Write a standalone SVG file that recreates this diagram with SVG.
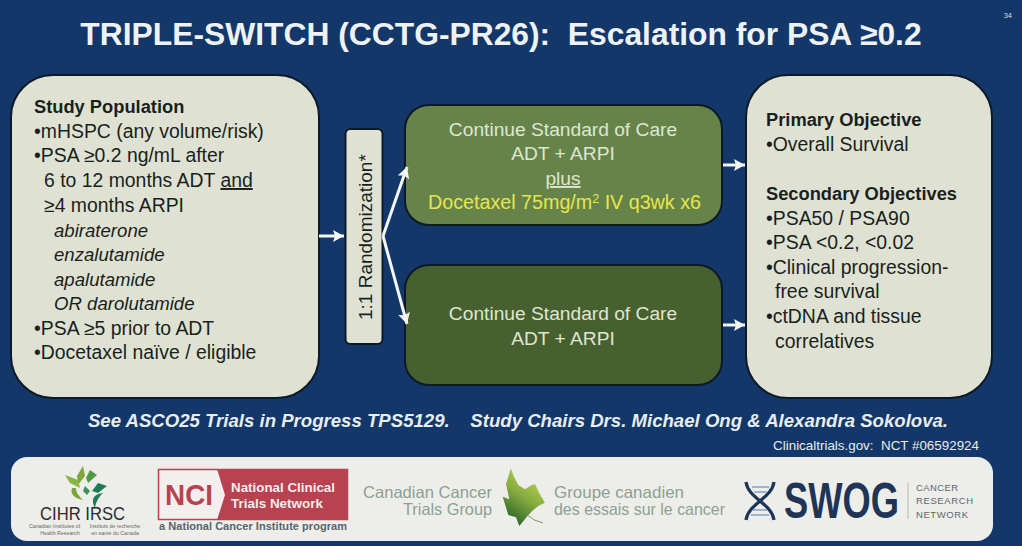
<svg xmlns="http://www.w3.org/2000/svg" width="1022" height="546" viewBox="0 0 1022 546">
<style>
text{font-family:"Liberation Sans",Arial,sans-serif}
.d{font-size:19.400px;fill:#1a1f1c}
.b{font-size:18.300px;font-weight:700}
.i{font-style:italic;font-size:18.600px}
.w{font-size:19.200px;fill:#dfe6d2;text-anchor:middle}
.box{fill:#dfe2d3;stroke:#0d1a26;stroke-width:2}
.c{stroke:#f4f6f6;stroke-width:3;fill:none;marker-end:url(#a)}
.gt{fill:#8d9f92;font-size:16.500px}
.sw{font-size:9.500px;fill:#5d6670}
.mini{font-size:5.300px;fill:#666;text-anchor:middle}
</style>
<defs>
<marker id="a" markerUnits="userSpaceOnUse" markerWidth="12" markerHeight="14" refX="11" refY="7" orient="auto"><path d="M0 1L11 7L0 13L2 7Z" fill="#f4f6f6"/></marker>
<linearGradient id="leaf" x1="0.700" y1="0.100" x2="0.300" y2="0.900"><stop offset="0" stop-color="#b9d05a"/><stop offset="0.500" stop-color="#86ab3f"/><stop offset="1" stop-color="#356f2a"/></linearGradient>
</defs>
<rect width="1022" height="546" fill="#123768"/>
<text x="1012" y="18" font-size="7.500" fill="#d8dde5" text-anchor="end">34</text>
<text id="title" x="501" y="45" font-size="31.800" font-weight="700" fill="#eef2f5" text-anchor="middle" xml:space="preserve">TRIPLE-SWITCH (CCTG-PR26):  Escalation for PSA ≥0.2</text>

<g id="population">
<rect class="box" x="11" y="75" width="308" height="323" rx="42"/>
<text class="d b" x="34" y="113">Study Population</text>
<text class="d" x="34" y="138">•mHSPC (any volume/risk)</text>
<text class="d" x="34" y="162">•PSA ≥0.2 ng/mL after</text>
<text class="d" x="44" y="187">6 to 12 months ADT <tspan text-decoration="underline">and</tspan></text>
<text class="d" x="44" y="212">≥4 months ARPI</text>
<text class="d i" x="54" y="237">abiraterone</text>
<text class="d i" x="54" y="261">enzalutamide</text>
<text class="d i" x="54" y="286">apalutamide</text>
<text class="d i" x="54" y="310">OR darolutamide</text>
<text class="d" x="34" y="335">•PSA ≥5 prior to ADT</text>
<text class="d" x="34" y="359">•Docetaxel naïve / eligible</text>
</g>

<g id="randomization">
<rect class="box" x="345.500" y="129" width="37" height="215" rx="5"/>
<text class="d" style="font-size:19px" transform="translate(372 320) rotate(-90)">1:1 Randomization*</text>
</g>

<g id="arm-a">
<rect x="405" y="105" width="317" height="120" rx="24" fill="#66844a" stroke="#0d1a26" stroke-width="2"/>
<text class="w" x="563" y="136">Continue Standard of Care</text>
<text class="w" x="563" y="160">ADT + ARPI</text>
<text class="w" x="563" y="185" text-decoration="underline">plus</text>
<text class="w" x="564.500" y="209" style="fill:#e8e54a;font-size:19.700px">Docetaxel 75mg/m<tspan font-size="12.500" dy="-6">2</tspan><tspan dy="6"> IV q3wk x6</tspan></text>
</g>

<g id="arm-b">
<rect x="405" y="265" width="317" height="120" rx="24" fill="#47602f" stroke="#0d1a26" stroke-width="2"/>
<text class="w" x="563" y="320">Continue Standard of Care</text>
<text class="w" x="563" y="345">ADT + ARPI</text>
</g>

<g id="objectives">
<rect class="box" x="746" y="75" width="246" height="323" rx="42"/>
<text class="d b" x="766" y="126">Primary Objective</text>
<text class="d" x="766" y="151">•Overall Survival</text>
<text class="d b" x="766" y="200">Secondary Objectives</text>
<text class="d" x="766" y="225">•PSA50 / PSA90</text>
<text class="d" x="766" y="249">•PSA &lt;0.2, &lt;0.02</text>
<text class="d" x="766" y="274">•Clinical progression-</text>
<text class="d" x="775" y="298">free survival</text>
<text class="d" x="766" y="323">•ctDNA and tissue</text>
<text class="d" x="775" y="348">correlatives</text>
</g>

<g id="connectors">
<path class="c" d="M319 236H344"/>
<path class="c" d="M383 236L407 167"/>
<path class="c" d="M383 236L407 324"/>
<path class="c" d="M723 165H745"/>
<path class="c" d="M723 325H745"/>
</g>

<text id="note" x="518" y="427" font-size="18.600" font-weight="700" font-style="italic" fill="#e8edf0" text-anchor="middle" xml:space="preserve">See ASCO25 Trials in Progress TPS5129.    Study Chairs Drs. Michael Ong &amp; Alexandra Sokolova.</text>
<text id="nct" x="979" y="450" font-size="13.400" fill="#e8edf0" text-anchor="end" xml:space="preserve">Clinicaltrials.gov:  NCT #06592924</text>

<g id="logos">
<rect x="11" y="457" width="982" height="84" rx="16" fill="#edeeea"/>
<g id="cihr">
<path d="M83 466L85 476L78 485L77 476Z" fill="#7da63c"/>
<path d="M90 470L97 475L88 483L86 478Z" fill="#4f9a45"/>
<path d="M65 475L78 480L80 488L70 483Z" fill="#8ab543"/>
<path d="M107 486L98 493L92 491L98 483Z" fill="#1f7a5a"/>
<path d="M72 488C70 494 74 498 83 500C78 495 76 492 76 488Z" fill="#7da63c"/>
<path d="M85 486L90 491L87 495L83 491Z" fill="#3f9150"/>
<path d="M103 493C95 494 90 498 95 508C96 502 98 498 103 493Z" fill="#1f7a5a"/>
<text x="40" y="520" font-size="19" fill="#2b2b2b" textLength="85" lengthAdjust="spacingAndGlyphs">CIHR IRSC</text>
<text class="mini" x="54.500" y="527.500">Canadian Institutes of</text>
<text class="mini" x="60" y="534.500">Health Research</text>
<text class="mini" x="115" y="527.500">Instituts de recherche</text>
<text class="mini" x="115" y="534.500">en santé du Canada</text>
</g>
<g id="nci">
<rect x="158.500" y="469.500" width="189" height="50" fill="#f3efef" stroke="#b84250" stroke-width="1.500"/>
<path d="M217 469H348V520H217L225 495Z" fill="#b84250"/>
<text x="165" y="505" font-size="30" font-weight="700" fill="#b84250" textLength="48" lengthAdjust="spacingAndGlyphs">NCI</text>
<text x="231" y="492" font-size="13.300" font-weight="700" fill="#f5ecec" textLength="104" lengthAdjust="spacingAndGlyphs">National Clinical</text>
<text x="231" y="508" font-size="13.300" font-weight="700" fill="#f5ecec" textLength="92" lengthAdjust="spacingAndGlyphs">Trials Network</text>
<text x="159" y="530" font-size="11" font-weight="700" fill="#59636b" textLength="188">a National Cancer Institute program</text>
</g>
<g id="cctg">
<text class="gt" x="363" y="498" textLength="129" lengthAdjust="spacingAndGlyphs">Canadian Cancer</text>
<text class="gt" x="403" y="515" textLength="89" lengthAdjust="spacingAndGlyphs">Trials Group</text>
<path d="M510.700 468.300L514 476.700L518.300 485L525 489.300L531.700 485L535 484L539.300 493.300L545 502.700L538.300 506L533.300 510L528.300 515L519.300 526L516 517.300L508.300 515L502.700 496.700L509.300 499.300L506 484L508.300 476.700Z" fill="url(#leaf)"/>
<path d="M527 515Q534 521 543 523" fill="none" stroke="#7f9a5a" stroke-width="1"/>
<text class="gt" x="554" y="498" textLength="130" lengthAdjust="spacingAndGlyphs">Groupe canadien</text>
<text class="gt" x="554" y="515" textLength="171" lengthAdjust="spacingAndGlyphs">des essais sur le cancer</text>
</g>
<g id="swog">
<path d="M746 482C748 498 772 504 774 520M774 482C772 498 748 504 746 520" fill="none" stroke="#1f3557" stroke-width="3.200"/>
<path d="M752 487H769M754 492H767M753 510H767M751 515H769" stroke="#9db3d0" stroke-width="1.800"/>
<text x="784" y="518" font-size="50" font-weight="700" fill="#1f3557" textLength="115" lengthAdjust="spacingAndGlyphs">SWOG</text>
<path d="M908 483V519" stroke="#b5b9bc"/>
<text class="sw" x="916" y="491" textLength="42">CANCER</text>
<text class="sw" x="916" y="504" textLength="57">RESEARCH</text>
<text class="sw" x="916" y="518" textLength="52">NETWORK</text>
</g>
</g>
</svg>
